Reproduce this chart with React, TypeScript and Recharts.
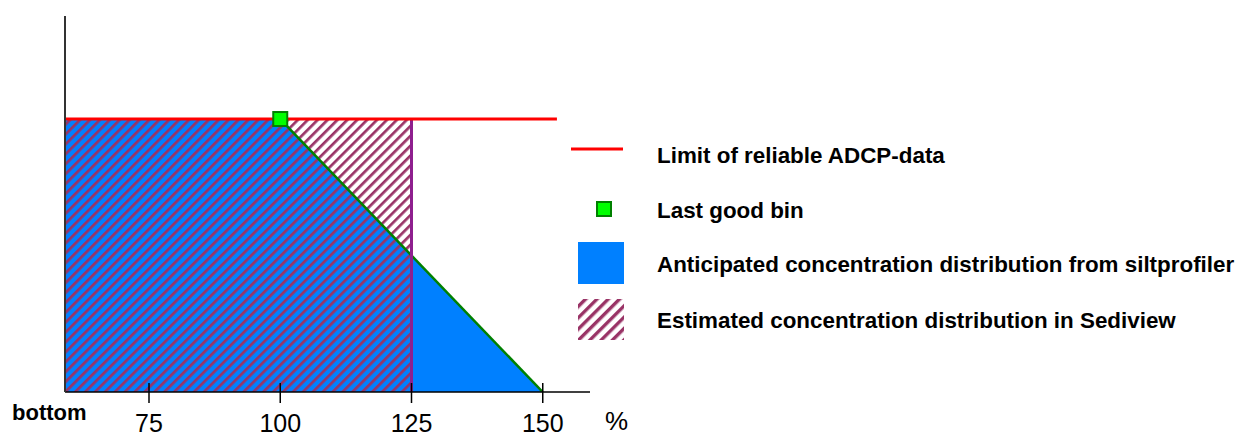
import React from 'react';
import { ComposedChart, XAxis, YAxis, Area, Line, Scatter, Legend } from 'recharts';

// x = percent, y = height above bottom (relative units)
const xTicks = [75, 100, 125, 150];
const xDomain = [59, 159];
const yDomain = [0, 100];

const anticipatedX = [59, 100, 150];
const anticipatedY = [72.6, 72.6, 0];

const estimatedX = [59, 125];
const estimatedY = [72.6, 72.6];

const estimatedEdgeX = [125, 125];
const estimatedEdgeY = [0, 72.6];

const limitX = [59, 152.7];
const limitY = [72.6, 72.6];

const lastGoodBinX = [100];
const lastGoodBinY = [72.6];

const legendLabels = [
  'Limit of reliable ADCP-data',
  'Last good bin',
  'Anticipated concentration distribution from siltprofiler',
  'Estimated concentration distribution in Sediview',
];

const zip = (xs: number[], ys: number[]) => xs.map((x, i) => ({ x, y: ys[i] }));

const anticipatedData = zip(anticipatedX, anticipatedY);
const estimatedData = zip(estimatedX, estimatedY);
const edgeData = zip(estimatedEdgeX, estimatedEdgeY);
const limitData = zip(limitX, limitY);
const binData = zip(lastGoodBinX, lastGoodBinY);

const FONT = '"Liberation Sans", Arial, sans-serif';
const BLUE = '#0080ff';
const HATCH = '#993366';

const Tick = (props: any) => {
  const { x, y, payload } = props;
  return (
    <g>
      <line x1={x} x2={x} y1={y - 9} y2={y + 11} stroke="#000" strokeWidth={1.5} />
      <text x={x} y={y + 40} textAnchor="middle" fontFamily={FONT} fontSize={25} fill="#000">
        {payload.value}
      </text>
    </g>
  );
};

const SquareShape = (props: any) => {
  const { cx, cy } = props;
  return <rect x={cx - 7} y={cy - 7} width={14} height={14} fill="#00ff00" stroke="#008000" strokeWidth={2} />;
};

const LegendContent = () => (
  <svg width={684} height={230} style={{ display: 'block' }}>
    <defs>
      <pattern id="hatchLegend" patternUnits="userSpaceOnUse" width={8} height={8} patternTransform="rotate(45)">
        <rect x={0} y={0} width={3.4} height={8} fill={HATCH} />
      </pattern>
    </defs>
    <line x1={11} x2={63} y1={19} y2={19} stroke="#ff0000" strokeWidth={3} />
    <rect x={37} y={72} width={14} height={14} fill="#00ff00" stroke="#008000" strokeWidth={2} />
    <rect x={18} y={112} width={46} height={42} fill={BLUE} />
    <rect x={18} y={169} width={46} height={41} fill="url(#hatchLegend)" />
    {legendLabels.map((t, i) => (
      <text key={t} x={97} y={[33, 88, 142, 198][i]} fontFamily={FONT} fontWeight="bold" fontSize={22.4} fill="#000">
        {t}
      </text>
    ))}
  </svg>
);

export default function App() {
  return (
    <div style={{ position: 'absolute', left: 0, top: 0, width: 1244, height: 437, background: '#fff' }}>
      <ComposedChart width={1244} height={437} margin={{ top: 16, left: 55, right: 654, bottom: 0 }}>
        <defs>
          <pattern id="hatchPlot" patternUnits="userSpaceOnUse" width={7} height={7} patternTransform="rotate(45)">
            <rect x={0} y={0} width={2.7} height={7} fill={HATCH} />
          </pattern>
        </defs>
        <XAxis
          type="number"
          dataKey="x"
          domain={xDomain}
          ticks={xTicks}
          interval={0}
          allowDataOverflow
          height={45}
          tickLine={false}
          tickSize={0}
          tickMargin={0}
          tick={<Tick />}
          axisLine={{ stroke: '#000', strokeWidth: 1.5 }}
        />
        <YAxis
          type="number"
          dataKey="y"
          domain={yDomain}
          allowDataOverflow
          width={10}
          tick={false}
          tickLine={false}
          axisLine={{ stroke: '#333', strokeWidth: 2 }}
        />
        <Area
          data={anticipatedData}
          dataKey="y"
          type="linear"
          fill={BLUE}
          fillOpacity={1}
          stroke="none"
          isAnimationActive={false}
          legendType="none"
        />
        <Line
          data={anticipatedData.slice(1)}
          dataKey="y"
          type="linear"
          stroke="#008000"
          strokeWidth={2.5}
          dot={false}
          isAnimationActive={false}
          legendType="none"
        />
        <Area
          data={estimatedData}
          dataKey="y"
          type="linear"
          fill="url(#hatchPlot)"
          fillOpacity={1}
          stroke="none"
          isAnimationActive={false}
          legendType="none"
        />
        <Line
          data={edgeData}
          dataKey="y"
          type="linear"
          stroke="#8e1f8e"
          strokeWidth={3}
          dot={false}
          isAnimationActive={false}
          legendType="none"
        />
        <Line
          data={limitData}
          dataKey="y"
          type="linear"
          stroke="#ff0000"
          strokeWidth={3}
          dot={false}
          isAnimationActive={false}
          legendType="none"
        />
        <Scatter data={binData} dataKey="y" shape={<SquareShape />} isAnimationActive={false} legendType="none" />
        <Legend
          layout="vertical"
          align="center"
          verticalAlign="middle"
          content={<LegendContent />}
          wrapperStyle={{ position: 'absolute', left: 560, top: 130, width: 684, height: 230 }}
        />
      </ComposedChart>
      <svg width={1244} height={437} style={{ position: 'absolute', left: 0, top: 0, pointerEvents: 'none' }}>
        <text x={12} y={420} fontFamily={FONT} fontWeight="bold" fontSize={22} fill="#000">bottom</text>
        <text x={605} y={430} fontFamily={FONT} fontSize={26} fill="#000">%</text>
      </svg>
    </div>
  );
}
